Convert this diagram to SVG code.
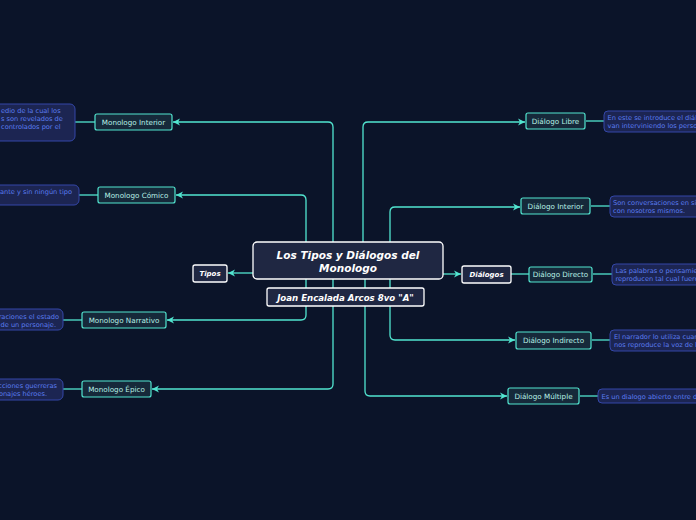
<svg xmlns="http://www.w3.org/2000/svg" width="696" height="520" viewBox="0 0 696 520">
<defs>
<marker id="arr" viewBox="0 0 8 8" refX="7" refY="4" markerWidth="8" markerHeight="8" markerUnits="userSpaceOnUse" orient="auto">
<path d="M0,0.5 L7,4 L0,7.5 L2,4 Z" fill="#52e5d0"/>
</marker>
<style>
.bg{fill:#0b1429}
.c{fill:none;stroke:#52e5d0;stroke-width:1.3}
.ca{fill:none;stroke:#52e5d0;stroke-width:1.3;marker-end:url(#arr)}
.n{fill:#16293a;stroke:#52e5d0;stroke-width:1.2}
.nt{font-family:"DejaVu Sans",sans-serif;font-size:7.2px;fill:#b8f0e6;text-anchor:middle}
.d{fill:#1c2552;stroke:#3447a8;stroke-width:1}
.dt{font-family:"DejaVu Sans",sans-serif;font-size:6.6px;fill:#5b7cf0}
.m{fill:#1f2742;stroke:#ffffff;stroke-width:1.3}
.mt{font-family:"DejaVu Sans",sans-serif;font-weight:bold;font-style:italic;fill:#ffffff;text-anchor:middle}
</style>
</defs>
<rect class="bg" x="0" y="0" width="696" height="520"/>
<g id="connectors">
<path class="ca" d="M333,250 V127 Q333,122 328,122 H173"/>
<path class="ca" d="M306,250 V200 Q306,195 301,195 H176"/>
<path class="ca" d="M306,270 V315 Q306,320 301,320 H167"/>
<path class="ca" d="M333,270 V384 Q333,389 328,389 H152"/>
<path class="ca" d="M363,250 V127 Q363,122 368,122 H525"/>
<path class="ca" d="M390,250 V212 Q390,207 395,207 H520"/>
<path class="ca" d="M390,270 V335 Q390,340 395,340 H515"/>
<path class="ca" d="M365,270 V391 Q365,396 370,396 H507"/>
<path class="ca" d="M253,273 H228"/>
<path class="ca" d="M443,274 H461"/>
<path class="c" d="M511,274 H529"/>
<path class="c" d="M75,122 H95"/>
<path class="c" d="M79,195 H98"/>
<path class="c" d="M63,320 H82"/>
<path class="c" d="M63,389 H82"/>
<path class="c" d="M586,121 H604"/>
<path class="c" d="M591,206 H610"/>
<path class="c" d="M593,274 H612"/>
<path class="c" d="M592,340 H610"/>
<path class="c" d="M580,396 H598"/>
</g>
<g id="main">
<rect class="m" x="253" y="242" width="190" height="37" rx="4"/>
<text class="mt" font-size="10.5" x="348" y="259">Los Tipos y Diálogos del</text>
<text class="mt" font-size="10.5" x="348" y="272">Monologo</text>
</g>
<g id="subtitle">
<rect class="m" x="267" y="288" width="157" height="18" rx="2"/>
<text class="mt" font-size="8.6" x="345.5" y="300.5">Joan Encalada Arcos 8vo "A"</text>
</g>
<g id="tipos">
<rect class="m" x="193" y="265" width="34" height="17" rx="2"/>
<text class="mt" font-size="7" x="210" y="276">Tipos</text>
</g>
<g id="dialogos">
<rect class="m" x="462" y="266" width="49" height="17" rx="2"/>
<text class="mt" font-size="7" x="486.5" y="277">Diálogos</text>
</g>
<g id="mon-interior">
<rect class="n" x="95" y="114" width="77" height="16" rx="2"/>
<text class="nt" x="133.5" y="124.5">Monologo Interior</text>
</g>
<g id="mon-interior-desc">
<rect class="d" x="-10" y="104" width="85" height="37" rx="5"/>
<text class="dt" x="1" y="113">edio de la cual los</text>
<text class="dt" x="1" y="121">s son revelados de</text>
<text class="dt" x="1" y="129"> controlados por el</text>
</g>
<g id="mon-comico">
<rect class="n" x="98" y="187" width="77" height="16" rx="2"/>
<text class="nt" x="136.5" y="197.5">Monologo Cómico</text>
</g>
<g id="mon-comico-desc">
<rect class="d" x="-10" y="185" width="89" height="20" rx="5"/>
<text class="dt" text-anchor="end" x="72" y="193.5">ante y sin ningún tipo</text>
</g>
<g id="mon-narrativo">
<rect class="n" x="82" y="312" width="84" height="16" rx="2"/>
<text class="nt" x="124" y="322.5">Monologo Narrativo</text>
</g>
<g id="mon-narrativo-desc">
<rect class="d" x="-10" y="309" width="73" height="21" rx="5"/>
<text class="dt" text-anchor="end" x="59" y="318.5">raciones el estado</text>
<text class="dt" text-anchor="end" x="56" y="326.5">de un personaje.</text>
</g>
<g id="mon-epico">
<rect class="n" x="82" y="381" width="69" height="16" rx="2"/>
<text class="nt" x="116.5" y="391.5">Monologo Épico</text>
</g>
<g id="mon-epico-desc">
<rect class="d" x="-10" y="379" width="73" height="21" rx="5"/>
<text class="dt" text-anchor="end" x="57" y="388">cciones guerreras</text>
<text class="dt" text-anchor="end" x="47" y="396">onajes héroes.</text>
</g>
<g id="dia-libre">
<rect class="n" x="526" y="113" width="59" height="16" rx="2"/>
<text class="nt" x="555.5" y="123.5">Diálogo Libre</text>
</g>
<g id="dia-libre-desc">
<rect class="d" x="604" y="111" width="100" height="21" rx="4"/>
<text class="dt" x="607.5" y="120">En este se introduce el diál</text>
<text class="dt" x="607.5" y="128">van interviniendo los perso</text>
</g>
<g id="dia-interior">
<rect class="n" x="521" y="198" width="69" height="16" rx="2"/>
<text class="nt" x="555.5" y="208.5">Diálogo Interior</text>
</g>
<g id="dia-interior-desc">
<rect class="d" x="610" y="196" width="94" height="21" rx="4"/>
<text class="dt" x="613" y="205">Son conversaciones en sí</text>
<text class="dt" x="613" y="213">con nosotros mismos.</text>
</g>
<g id="dia-directo">
<rect class="n" x="529" y="267" width="63" height="15" rx="2"/>
<text class="nt" x="560.5" y="277">Diálogo Directo</text>
</g>
<g id="dia-directo-desc">
<rect class="d" x="612" y="264" width="92" height="21" rx="4"/>
<text class="dt" x="615.5" y="273">Las palabras o pensamie</text>
<text class="dt" x="615.5" y="281">reproducen tal cual fuero</text>
</g>
<g id="dia-indirecto">
<rect class="n" x="516" y="332" width="75" height="17" rx="2"/>
<text class="nt" x="553.5" y="343">Diálogo Indirecto</text>
</g>
<g id="dia-indirecto-desc">
<rect class="d" x="610" y="330" width="94" height="21" rx="4"/>
<text class="dt" x="614" y="339">El narrador lo utiliza cuan</text>
<text class="dt" x="614" y="347">nos reproduce la voz de l</text>
</g>
<g id="dia-multiple">
<rect class="n" x="508" y="388" width="71" height="16" rx="2"/>
<text class="nt" x="543.5" y="398.5">Diálogo Múltiple</text>
</g>
<g id="dia-multiple-desc">
<rect class="d" x="598" y="389" width="106" height="14" rx="4"/>
<text class="dt" x="601.5" y="398.5">Es un dialogo abierto entre d</text>
</g>
</svg>
